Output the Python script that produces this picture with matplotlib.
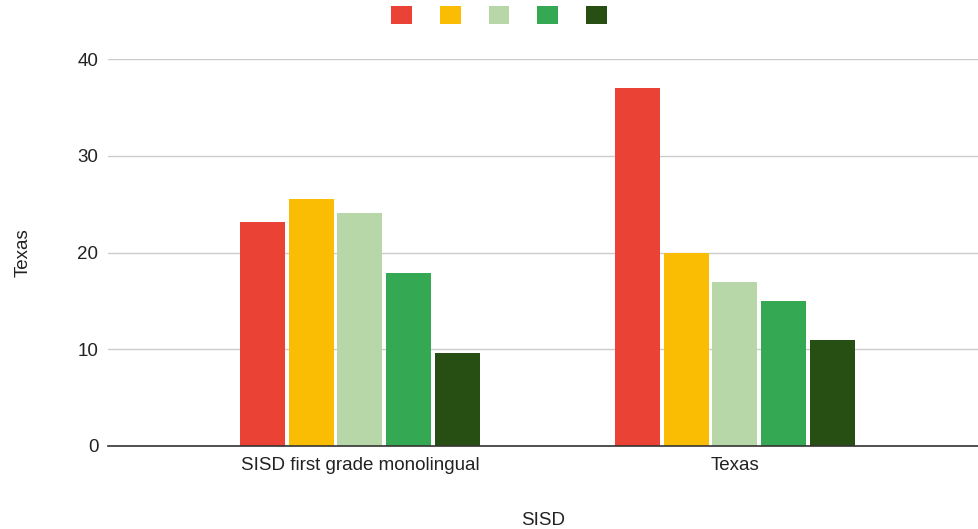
import matplotlib.pyplot as plt
import numpy as np
from matplotlib.patches import Patch

categories = ['SISD first grade monolingual', 'Texas']
series = [
    [23.2, 37.0],
    [25.5, 20.0],
    [24.1, 17.0],
    [17.9, 15.0],
    [9.6, 11.0],
]
colors = ['#EA4335', '#FBBC04', '#B7D7A8', '#34A853', '#274E13']
yticks = [0, 10, 20, 30, 40]

plt.rcParams['font.family'] = ['Liberation Sans', 'DejaVu Sans']

fig = plt.figure(figsize=(9.79, 5.29), dpi=100)
ax = fig.add_axes([108 / 979, 83 / 529, 1 - 108 / 979, (446 - 59) / 529])

x = np.arange(len(categories))
width = 0.12
pitch = 0.13
for i, vals in enumerate(series):
    offs = (i - 2) * pitch
    ax.bar(x + offs, vals, width, color=colors[i], zorder=3)

ax.set_xlim(-0.672, 1.651)
ax.set_ylim(0, 40)
ax.set_yticks(yticks)
ax.set_xticks(x)
ax.set_xticklabels(categories, fontsize=13.5, color='#222222')
ax.tick_params(axis='y', length=0, labelsize=13.5, labelcolor='#222222', pad=7)
ax.tick_params(axis='x', length=0, pad=8)
ax.grid(axis='y', color='#cccccc', linewidth=1, zorder=0)
for s in ['top', 'right', 'left']:
    ax.spines[s].set_visible(False)
ax.spines['bottom'].set_color('#333333')
ax.spines['bottom'].set_linewidth(1.2)
ax.spines['bottom'].set_zorder(4)

ax.set_ylabel('Texas', fontsize=13.5, color='#222222', labelpad=33)
ax.set_xlabel('SISD', fontsize=13.5, color='#222222', labelpad=27)

handles = [Patch(facecolor=c, edgecolor='none') for c in colors]
fig.legend(handles, [''] * 5, ncol=5, loc='center', bbox_to_anchor=(499 / 979, 1 - 16 / 529),
           frameon=False, handlelength=1.15, handleheight=1.15, columnspacing=1.55,
           handletextpad=0, fontsize=13)

fig.savefig('out.png', dpi=100)
